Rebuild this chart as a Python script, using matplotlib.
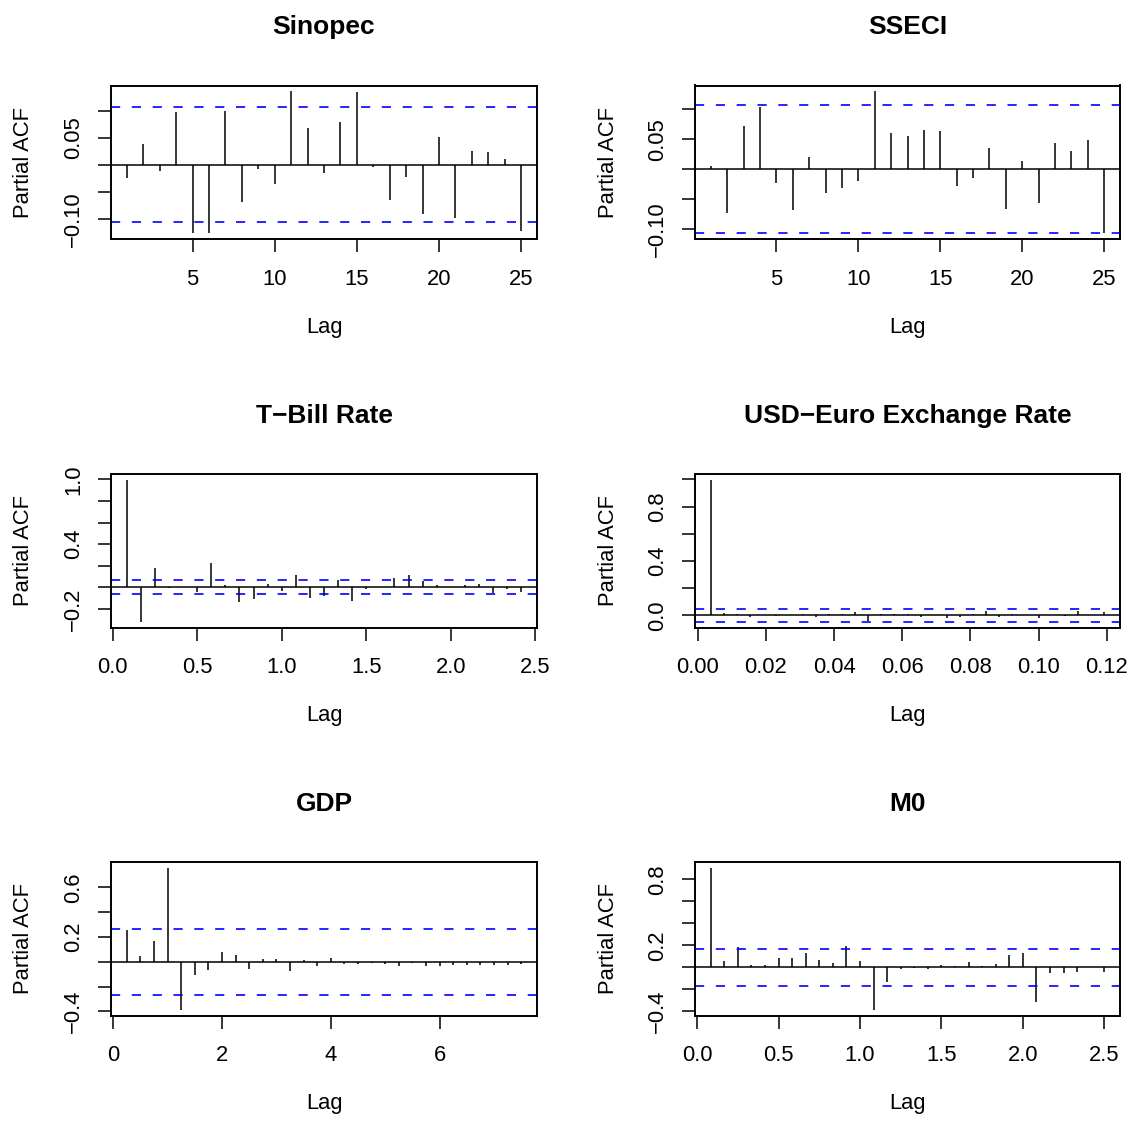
import numpy as np
import matplotlib
matplotlib.use('Agg')
import matplotlib.pyplot as plt

plt.rcParams['font.family'] = ['Liberation Sans', 'DejaVu Sans']

M = '\u2212'

# ---- data ----
# Sinopec, daily returns, lags 1..25
sinopec_lag = np.arange(1, 26)
sinopec_pacf = [-0.024, 0.038, -0.011, 0.097, -0.126, -0.125, 0.099, -0.069, -0.008, -0.036,
                0.136, 0.069, -0.015, 0.080, 0.134, -0.004, -0.064, -0.023, -0.090, 0.051,
                -0.098, 0.026, 0.023, 0.011, -0.122]
sinopec_ci = 0.106

# SSECI, lags 1..25
sseci_lag = np.arange(1, 26)
sseci_pacf = [0.005, -0.073, 0.072, 0.103, -0.023, -0.068, 0.020, -0.040, -0.032, -0.019,
              0.130, 0.060, 0.055, 0.065, 0.064, -0.028, -0.015, 0.036, -0.067, 0.014,
              -0.056, 0.043, 0.030, 0.048, -0.107]
sseci_ci = 0.1066

# T-Bill rate, monthly, 29 lags
tbill_lag = np.arange(1, 30) / 12
tbill_pacf = [0.998, -0.320, 0.178, -0.010, 0.005, -0.043, 0.230, 0.025, -0.138, -0.108,
              0.034, -0.037, 0.117, -0.100, -0.077, 0.070, -0.123, -0.020, 0.005, 0.086,
              0.117, 0.055, 0.018, 0.004, 0.020, 0.028, -0.052, -0.015, -0.040]
tbill_ci = 0.066

# USD-Euro exchange rate, daily (260/yr), 31 lags
usd_lag = np.arange(1, 32) / 260
usd_pacf = [0.998, 0.016, 0.011, -0.011, 0.003, -0.003, 0.002, 0.011, -0.011, 0.011,
            0.011, 0.027, -0.040, 0.011, 0.011, 0.011, -0.016, 0.003, -0.023, -0.011,
            0.011, 0.030, -0.016, 0.008, 0.002, -0.023, 0.003, -0.004, 0.030, 0.004, 0.023]
usd_ci = 0.048

# GDP, quarterly, 30 lags
gdp_lag = np.arange(1, 31) / 4
gdp_pacf = [0.258, 0.050, 0.171, 0.758, -0.387, -0.105, -0.066, 0.082, 0.053, -0.058,
            0.026, 0.021, -0.076, 0.013, -0.030, 0.034, -0.018, -0.018, -0.010, -0.015,
            -0.030, -0.013, -0.030, -0.030, -0.026, -0.026, -0.026, -0.026, -0.026, -0.015]
gdp_ci = 0.265

# M0, monthly, 30 lags
m0_lag = np.arange(1, 31) / 12
m0_pacf = [0.907, 0.063, 0.188, 0.018, 0.021, 0.090, 0.087, 0.131, 0.072, 0.042,
           0.197, 0.063, -0.385, -0.130, -0.015, -0.006, -0.012, 0.018, 0.009, 0.054,
           0.012, 0.036, 0.113, 0.128, -0.316, -0.054, -0.054, -0.042, 0.006, -0.039]
m0_ci = 0.165

panels = [
    ('Sinopec', sinopec_lag, sinopec_pacf, sinopec_ci,
     [5, 10, 15, 20, 25], ['5', '10', '15', '20', '25'],
     [-0.10, -0.05, 0.0, 0.05, 0.10], [M + '0.10', '', '', '0.05', '']),
    ('SSECI', sseci_lag, sseci_pacf, sseci_ci,
     [5, 10, 15, 20, 25], ['5', '10', '15', '20', '25'],
     [-0.10, -0.05, 0.0, 0.05, 0.10], [M + '0.10', '', '', '0.05', '']),
    ('T' + M + 'Bill Rate', tbill_lag, tbill_pacf, tbill_ci,
     [0, 0.5, 1.0, 1.5, 2.0, 2.5], ['0.0', '0.5', '1.0', '1.5', '2.0', '2.5'],
     [-0.2, 0, 0.2, 0.4, 0.6, 0.8, 1.0], [M + '0.2', '', '', '0.4', '', '', '1.0']),
    ('USD' + M + 'Euro Exchange Rate', usd_lag, usd_pacf, usd_ci,
     [0, 0.02, 0.04, 0.06, 0.08, 0.10, 0.12],
     ['0.00', '0.02', '0.04', '0.06', '0.08', '0.10', '0.12'],
     [0, 0.2, 0.4, 0.6, 0.8, 1.0], ['0.0', '', '0.4', '', '0.8', '']),
    ('GDP', gdp_lag, gdp_pacf, gdp_ci,
     [0, 2, 4, 6], ['0', '2', '4', '6'],
     [-0.4, -0.2, 0, 0.2, 0.4, 0.6], [M + '0.4', '', '', '0.2', '', '0.6']),
    ('M0', m0_lag, m0_pacf, m0_ci,
     [0, 0.5, 1.0, 1.5, 2.0, 2.5], ['0.0', '0.5', '1.0', '1.5', '2.0', '2.5'],
     [-0.4, -0.2, 0, 0.2, 0.4, 0.6, 0.8], [M + '0.4', '', '', '0.2', '', '', '0.8']),
]

W, H = 1137, 1122
fig = plt.figure(figsize=(W / 100, H / 100), dpi=100)

col_left = [111, 695]
col_width = [426, 425]
row_top = [85.5, 474, 862]
box_h = 153.5

for i, (title, lag, pacf, ci, xt, xl, yt, yl) in enumerate(panels):
    r, c = divmod(i, 2)
    ax = fig.add_axes([col_left[c] / W, 1 - (row_top[r] + box_h) / H,
                       col_width[c] / W, box_h / H])
    lag = np.asarray(lag, dtype=float)
    pacf = np.asarray(pacf)

    ax.vlines(lag, 0, pacf, color='black', lw=1.1)
    ax.axhline(0, color='black', lw=1.1)
    ax.axhline(ci, color='#0000FF', lw=1.2, ls=(0, (5.5, 7)))
    ax.axhline(-ci, color='#0000FF', lw=1.2, ls=(0, (5.5, 7)))

    # R-style 4% axis extension
    lo, hi = min(pacf.min(), -ci), max(pacf.max(), ci)
    ax.set_ylim(lo - 0.04 * (hi - lo), hi + 0.04 * (hi - lo))
    xr = lag.max() - lag.min()
    ax.set_xlim(lag.min() - 0.04 * xr, lag.max() + 0.04 * xr)

    ax.set_xticks(xt)
    ax.set_xticklabels(xl)
    ax.set_yticks(yt)
    ax.set_yticklabels(yl, rotation=90, va='center')
    ax.tick_params(direction='out', length=9.4, width=1.1, labelsize=15.8, colors='black')
    ax.tick_params(axis='x', pad=12)
    ax.tick_params(axis='y', pad=10)
    for s in ax.spines.values():
        s.set_linewidth(1.4)

    ax.set_title(title, fontsize=19, fontweight='bold', pad=37)
    ax.set_xlabel('Lag', fontsize=15.8)
    ax.xaxis.set_label_coords(0.5, -0.505)
    ax.xaxis.label.set_va('top')
    ax.set_ylabel('Partial ACF', fontsize=15.8)
    ax.yaxis.set_label_coords(-76.5 / col_width[c], 0.5)

fig.savefig('out.png', dpi=100)
